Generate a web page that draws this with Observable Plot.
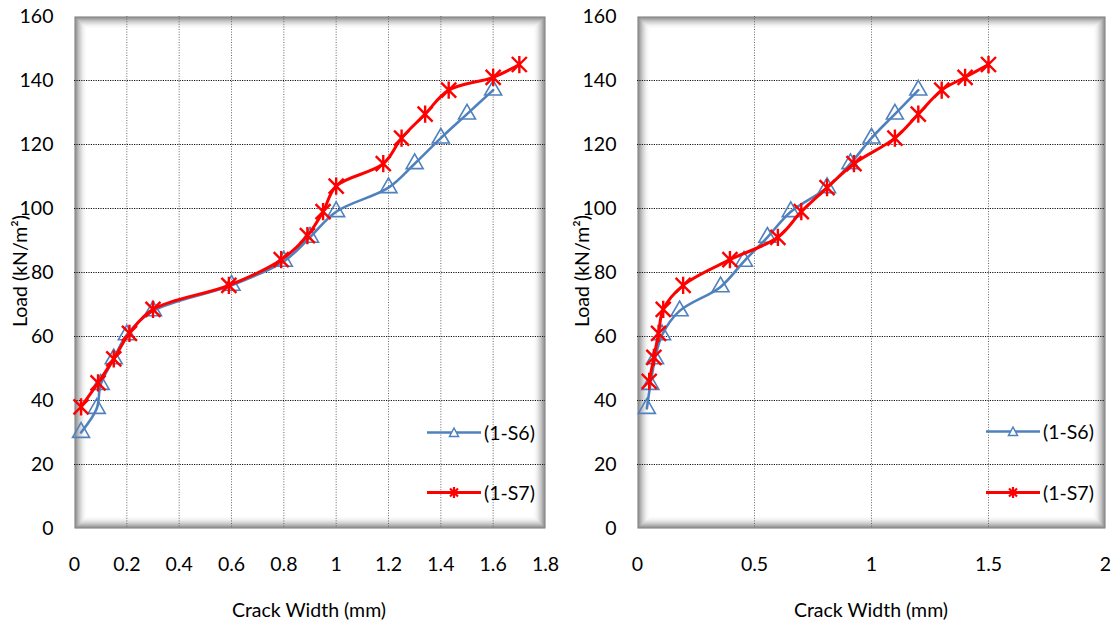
<!DOCTYPE html>
<html>
<head>
<meta charset="utf-8">
<script src="https://cdn.jsdelivr.net/npm/d3@7"></script>
<script src="https://cdn.jsdelivr.net/npm/@observablehq/plot@0.6"></script>
<style>
  html, body { margin: 0; padding: 0; background: #fff; }
  #wrap { position: relative; width: 1118px; height: 628px; overflow: hidden; font-family: Lato, "Open Sans", sans-serif; color: #000; }
  .panel { position: absolute; top: 0; }
  .xlabel { position: absolute; font-size: 19.5px; transform: translate(-50%, -50%); white-space: nowrap; }
  .ylabel { position: absolute; font-size: 19.5px; transform: translate(-50%, -50%) rotate(-90deg); white-space: nowrap; }
  .leg { position: absolute; display: flex; align-items: center; font-size: 19.5px; white-space: nowrap; transform: translateY(-50%); }
  .leg svg { margin-right: 3px; }
</style>
</head>
<body>
<div id="wrap"></div>
<script>
// ---------- data ----------
const leftS6Width = [0.025, 0.085, 0.10, 0.15, 0.20, 0.30, 0.60, 0.80, 0.90, 1.00, 1.20, 1.30, 1.40, 1.50, 1.60];
const leftS6Load  = [30, 37.5, 45, 53, 60.5, 68, 76, 83.5, 91, 99, 106.5, 114, 122, 129.5, 137];
const leftS7Width = [0.025, 0.09, 0.15, 0.21, 0.30, 0.59, 0.79, 0.89, 0.95, 1.00, 1.18, 1.25, 1.34, 1.43, 1.60, 1.70];
const leftS7Load  = [38, 45.5, 53, 61, 68.5, 76, 84, 91.5, 99, 107, 114, 122, 129.5, 137, 141, 145];

const rightS6Width = [0.04, 0.055, 0.075, 0.105, 0.18, 0.355, 0.455, 0.555, 0.655, 0.81, 0.91, 1.00, 1.10, 1.20];
const rightS6Load  = [37.5, 45, 53, 60.5, 68, 75.5, 83.5, 91, 99, 106.5, 114, 122, 129.5, 137];
const rightS7Width = [0.05, 0.07, 0.09, 0.11, 0.195, 0.395, 0.60, 0.70, 0.81, 0.925, 1.10, 1.20, 1.30, 1.40, 1.50];
const rightS7Load  = [46, 53.5, 61, 68.5, 76, 84, 91, 99, 106.5, 114, 122, 129.5, 137, 141, 145];

const leftXTicks  = [0, 0.2, 0.4, 0.6, 0.8, 1, 1.2, 1.4, 1.6, 1.8];
const rightXTicks = [0, 0.5, 1, 1.5, 2];
const yTicks = [0, 20, 40, 60, 80, 100, 120, 140, 160];
const seriesNames = ["(1-S6)", "(1-S7)"];
const xTitle = "Crack Width (mm)";
const yTitle = "Load (kN/m²)";

// ---------- styling ----------
const BLUE = "#4f81bd";
const RED = "#ff0000";
const FS = 19.5;

const starSymbol = {
  draw(ctx, size) {
    const r = Math.sqrt(size / Math.PI);
    ctx.moveTo(-r, -r); ctx.lineTo(r, r);
    ctx.moveTo(-r, r); ctx.lineTo(r, -r);
    ctx.moveTo(0, -r * 1.15); ctx.lineTo(0, r * 1.15);
  }
};

function toRows(xs, ys) { return xs.map((x, i) => ({x, y: ys[i]})); }

function vignette() {
  const marks = [];
  for (let i = 0; i < 13; i++) {
    marks.push(Plot.frame({inset: i + 0.5, stroke: "#000", strokeWidth: 1, strokeOpacity: 0.55 * Math.pow(1 - i / 13, 2.2)}));
  }
  return marks;
}

function panel({xMax, xTicks, s6, s7, marginLeft, marginRight}) {
  return Plot.plot({
    width: 559,
    height: 628,
    marginLeft, marginRight,
    marginTop: 16,
    marginBottom: 100,
    style: {fontFamily: "Lato, 'Open Sans', sans-serif", fontSize: FS + "px", background: "transparent", color: "#000"},
    x: {domain: [0, xMax]},
    y: {domain: [0, 160]},
    marks: [
      Plot.frame({fill: "#fff"}),
      ...vignette(),
      Plot.gridX(xTicks.slice(1, -1), {stroke: "#666", strokeOpacity: 1, strokeDasharray: "1,1.6", strokeWidth: 1}),
      Plot.gridY(yTicks.slice(1, -1), {stroke: "#111", strokeOpacity: 1, strokeDasharray: "1.2,1.2", strokeWidth: 1}),
      Plot.axisX(xTicks, {tickSize: 0, tickPadding: 29, tickFormat: d => String(d), label: null, fontSize: FS}),
      Plot.axisY(yTicks, {tickSize: 0, tickPadding: 21, tickFormat: d => String(d), label: null, fontSize: FS}),
      Plot.line(s6, {x: "x", y: "y", stroke: BLUE, strokeWidth: 2.6, curve: "catmull-rom"}),
      Plot.dot(s6, {x: "x", y: "y", symbol: "triangle", r: 6.3, fill: "none", stroke: BLUE, strokeWidth: 1.6}),
      Plot.line(s7, {x: "x", y: "y", stroke: RED, strokeWidth: 3, curve: "catmull-rom"}),
      Plot.dot(s7, {x: "x", y: "y", symbol: starSymbol, r: 7.5, fill: "none", stroke: RED, strokeWidth: 2.4})
    ]
  });
}

const wrap = document.getElementById("wrap");

function addPanel(left, opts) {
  const d = document.createElement("div");
  d.className = "panel";
  d.style.left = left + "px";
  d.appendChild(panel(opts));
  wrap.appendChild(d);
}

addPanel(0, {xMax: 1.8, xTicks: leftXTicks, s6: toRows(leftS6Width, leftS6Load), s7: toRows(leftS7Width, leftS7Load), marginLeft: 74, marginRight: 14});
addPanel(559, {xMax: 2, xTicks: rightXTicks, s6: toRows(rightS6Width, rightS6Load), s7: toRows(rightS7Width, rightS7Load), marginLeft: 78, marginRight: 13});

function addText(cls, text, x, y) {
  const d = document.createElement("div");
  d.className = cls;
  d.style.left = x + "px";
  d.style.top = y + "px";
  d.textContent = text;
  wrap.appendChild(d);
}
addText("xlabel", xTitle, 309, 609);
addText("xlabel", xTitle, 871, 609);
addText("ylabel", yTitle, 19, 271);
addText("ylabel", yTitle, 581, 271);

function legendItem(x, y, color, kind, name) {
  const d = document.createElement("div");
  d.className = "leg";
  d.style.left = x + "px";
  d.style.top = y + "px";
  const ns = "http://www.w3.org/2000/svg";
  const svg = document.createElementNS(ns, "svg");
  svg.setAttribute("width", 54); svg.setAttribute("height", 14);
  const ln = document.createElementNS(ns, "line");
  ln.setAttribute("x1", 0); ln.setAttribute("x2", 54); ln.setAttribute("y1", 7); ln.setAttribute("y2", 7);
  ln.setAttribute("stroke", color); ln.setAttribute("stroke-width", kind === "tri" ? 2.6 : 3);
  svg.appendChild(ln);
  const p = document.createElementNS(ns, "path");
  if (kind === "tri") {
    p.setAttribute("d", "M27,2.5L31.5,11L22.5,11Z");
    p.setAttribute("fill", "#fff"); p.setAttribute("stroke", color); p.setAttribute("stroke-width", 1.5);
  } else {
    p.setAttribute("d", "M23,3L31,11M23,11L31,3M27,1.5L27,12.5");
    p.setAttribute("fill", "none"); p.setAttribute("stroke", color); p.setAttribute("stroke-width", 2.2);
  }
  svg.appendChild(p);
  d.appendChild(svg);
  const t = document.createElement("span");
  t.textContent = name;
  d.appendChild(t);
  wrap.appendChild(d);
}
legendItem(427, 432, BLUE, "tri", seriesNames[0]);
legendItem(427, 492, RED, "star", seriesNames[1]);
legendItem(986, 431, BLUE, "tri", seriesNames[0]);
legendItem(986, 492, RED, "star", seriesNames[1]);
</script>
</body>
</html>
